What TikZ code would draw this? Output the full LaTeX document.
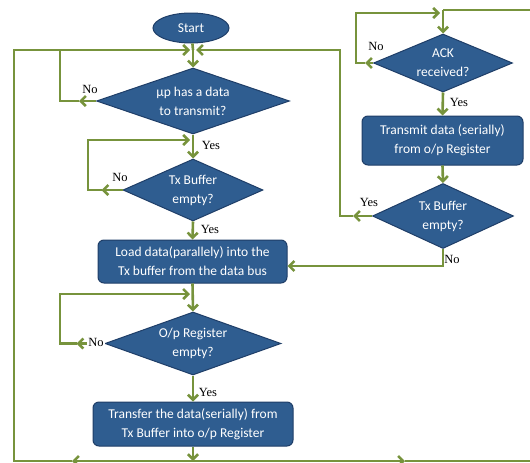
\documentclass[tikz,border=0pt]{standalone}
\usepackage{fontspec}
\setmainfont{Carlito}
\newfontfamily\lblfont{Liberation Serif}
\usetikzlibrary{arrows.meta,shapes.geometric}
\definecolor{boxblue}{HTML}{2F5D90}
\definecolor{boxedge}{HTML}{1F3E68}
\definecolor{flowgreen}{HTML}{77933C}
\tikzset{
  pbox/.style={rectangle, rounded corners=6pt, fill=boxblue, draw=boxedge, line width=1pt,
    text=white, align=center, font=\fontsize{13.5}{19}\selectfont, inner sep=0pt},
  term/.style={ellipse, fill=boxblue, draw=boxedge, line width=1pt, text=white,
    font=\fontsize{13.5}{16}\selectfont, inner sep=0pt},
  dec/.style={diamond, fill=boxblue, draw=boxedge, line width=1pt, inner sep=0pt},
  dtext/.style={text=white, align=center, font=\fontsize{13.5}{19}\selectfont, inner sep=0pt},
  wire/.style={draw=flowgreen, line width=2.6pt, line join=miter},
  flow/.style={wire, -{Straight Barb[length=5pt,width=10pt]}},
  yn/.style={font=\lblfont\fontsize{12.5}{13}\selectfont, inner sep=0pt, text=black},
}
\begin{document}
\begin{tikzpicture}[x=1pt,y=-1pt]
\useasboundingbox (0,0) rectangle (530,463);

% ---- left column ----
\node[term, minimum width=76pt, minimum height=30pt] (start) at (191,28) {Start};
\node[dec, minimum width=193pt, minimum height=66pt] (d1) at (193,101) {};
\node[dtext] (t1) at (d1) {µp has a data\\to transmit?};
\node[dec, minimum width=140pt, minimum height=62pt] (d2) at (193,190) {};
\node[dtext] (t2) at (d2) {Tx Buffer\\empty?};
\node[pbox, minimum width=189pt, minimum height=43pt] (b1) at (192.5,261.5)
  {Load data(parallely) into the\\Tx buffer from the data bus};
\node[dec, minimum width=176pt, minimum height=63pt] (d3) at (193,343.5) {};
\node[dtext] (t3) at (d3) {O/p Register\\empty?};
\node[pbox, minimum width=200pt, minimum height=44pt] (b2) at (193,424)
  {Transfer the data(serially) from\\Tx Buffer into o/p Register};

% ---- right column ----
\node[dec, minimum width=139pt, minimum height=58pt] (ack) at (443,63) {};
\node[dtext] (t4) at (ack) {ACK\\received?};
\node[pbox, minimum width=161pt, minimum height=49pt] (b3) at (442.5,140.5)
  {Transmit data (serially)\\from o/p Register};
\node[dec, minimum width=141pt, minimum height=65pt] (d4) at (443,216) {};
\node[dtext] (t5) at (d4) {Tx Buffer\\empty?};

% ---- junction points ----
\coordinate (m1) at (193,50);
\coordinate (m2) at (193,140);
\coordinate (m3) at (193,294);
\coordinate (m4) at (443,13);
\coordinate (bot) at (193,461);
\coordinate (lc) at (14,461);
\coordinate (re) at (531,461);
\coordinate (te) at (531,10);

% ---- connectors, left column ----
\draw[wire] (start) -- (m1);
\draw[flow] (m1) -- (d1.north);
\draw[flow] (d1.west) -- ++(-17,0) coordinate (a1);
\draw[wire] (a1) -- (60,101) -- (60,50);
\draw[flow] (d1.south) -- (d2.north);
\draw[flow] (d2.west) -- ++(-21,0) coordinate (a2);
\draw[flow] (a2) -- (88,190) -- (88,140) -- ([xshift=-3pt]m2);
\draw[flow] (d2.south) -- (b1.north);
\draw[flow] (b1.south) -- (d3.north);
\draw[flow] (d3.west) -- ++(-28,0) coordinate (a3);
\draw[flow] (a3) -- (60,343.5) -- (60,294) -- ([xshift=-3pt]m3);
\draw[flow] (d3.south) -- (b2.north);
\draw[flow] (b2.south) -- (bot);

% ---- bottom return line ----
\draw[flow] (bot) -- (72,461) coordinate (a6);
\draw[flow] (a6) -- (lc) -- (14,50) -- ([xshift=-3pt]m1);
\draw[flow] (bot) -- (405,461) coordinate (a7);
\draw[wire] (a7) -- (re);

% ---- connectors, right column ----
\draw[wire] (te) -- (443,10);
\draw[flow] (443,10) -- (ack.north);
\draw[flow] (ack.west) -- ++(-8,0) coordinate (a5);
\draw[flow] (a5) -- (356,63) -- (356,13) -- ([xshift=-3pt]m4);
\draw[flow] (ack.south) -- (b3.north);
\draw[flow] (b3.south) -- (d4.north);
\draw[flow] (d4.west) -- ++(-19,0) coordinate (a4);
\draw[flow] (a4) -- (340,216) -- (340,50) -- ([xshift=3pt]m1);
\draw[flow] (d4.south) -- (443,266) -- ([yshift=-4.5pt]b1.east);

% ---- branch labels ----
\node[yn] (n1) at (90,89) {No};
\node[yn] (y1) at (211,145) {Yes};
\node[yn] (n2) at (120,177) {No};
\node[yn] (y2) at (210,229) {Yes};
\node[yn, fill=white, inner sep=1pt] (n3) at (96,342) {No};
\node[yn] (y3) at (208,392) {Yes};
\node[yn] (n4) at (376,46) {No};
\node[yn] (y4) at (459,102) {Yes};
\node[yn] (y5) at (369,202) {Yes};
\node[yn] (n5) at (452,259) {No};
\end{tikzpicture}
\end{document}
